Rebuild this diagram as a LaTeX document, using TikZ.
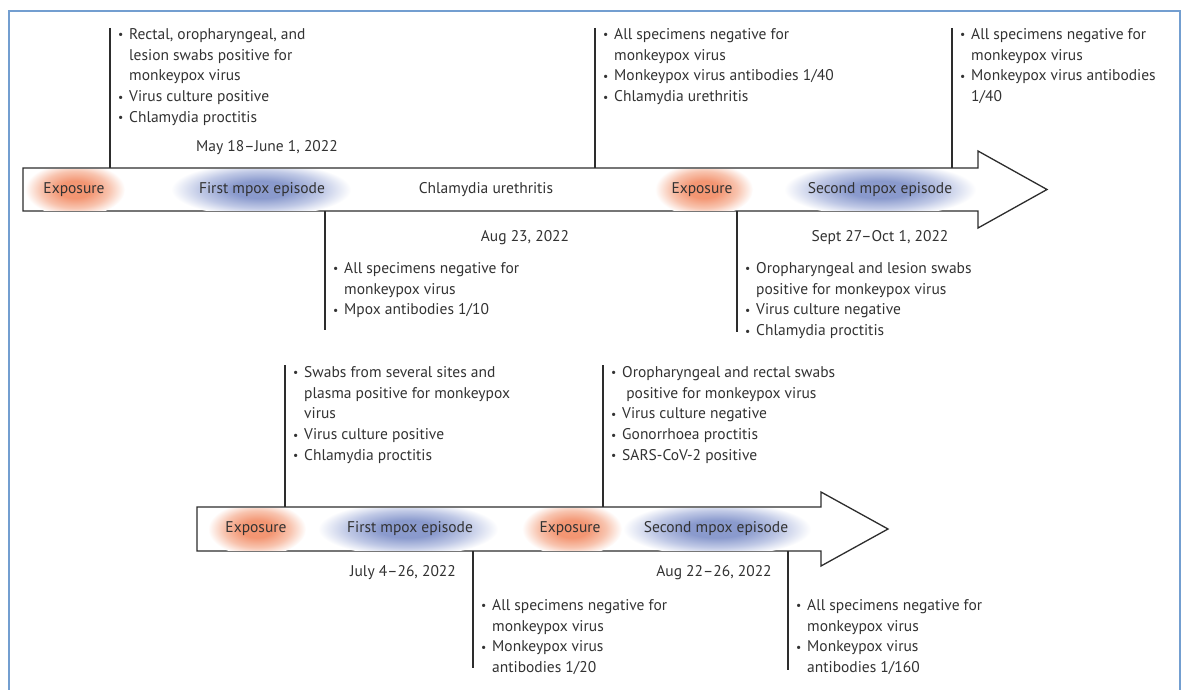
\documentclass[tikz,border=0pt]{standalone}
\usepackage{fontspec}
\setmainfont{PT Sans}
\definecolor{txt}{RGB}{50,50,50}
\definecolor{ln}{RGB}{45,45,45}
\definecolor{framec}{RGB}{115,158,208}
\definecolor{expo}{RGB}{243,150,115}
\definecolor{expomid}{RGB}{248,196,175}
\definecolor{epi}{RGB}{138,154,205}
\definecolor{epimid}{RGB}{192,201,230}
\pgfdeclareradialshading{orblob}{\pgfpointorigin}{color(0bp)=(expo); color(8bp)=(expo); color(17bp)=(expomid); color(25bp)=(white); color(50bp)=(white)}
\pgfdeclareradialshading{blblob}{\pgfpointorigin}{color(0bp)=(epi); color(8bp)=(epi); color(17bp)=(epimid); color(25bp)=(white); color(50bp)=(white)}
\newcommand{\bu}{\makebox[11pt][l]{\raisebox{0.6pt}{\scalebox{0.75}{\textbullet}}}}
\newcommand{\ind}{\hspace*{11pt}}
\tikzset{
  blk/.style={anchor=north west, inner sep=0pt, align=left, font=\fontsize{15.5}{20.8}\selectfont, text=txt},
  datel/.style={inner sep=0pt, font=\fontsize{15.5}{20.8}\selectfont, text=txt},
  lab/.style={inner sep=0pt, font=\fontsize{15.5}{20.8}\selectfont, text=txt},
  conn/.style={draw=ln, line width=1.2pt},
  arrowbody/.style={draw=ln, line width=1.3pt, fill=white, line join=miter},
}
\begin{document}
\begin{tikzpicture}[x=1pt,y=-1pt]
\useasboundingbox (0,0) rectangle (1185,690);
% frame
\draw[framec, line width=2pt] (9,695) -- (9,11) -- (1180,11) -- (1180,695);

% ===== top arrow =====
\draw[arrowbody] (23,168) -- (978,168) -- (978,151) -- (1047,189.5) -- (978,228) -- (978,211) -- (23,211) -- cycle;
\begin{scope}
\clip (24,169) rectangle (977,210);
\shade[shading=orblob] (75,189.5) ellipse (50pt and 27pt);
\shade[shading=blblob] (261,189.5) ellipse (90pt and 27pt);
\shade[shading=orblob] (704,189.5) ellipse (49pt and 27pt);
\shade[shading=blblob] (880,189.5) ellipse (96pt and 27pt);
\end{scope}
\node[lab] (t1) at (74,189.5) {Exposure};
\node[lab] (t2) at (262,189.5) {First mpox episode};
\node[lab] (t3) at (486,189.5) {Chlamydia urethritis};
\node[lab] (t4) at (702,189.5) {Exposure};
\node[lab] (t5) at (880,189.5) {Second mpox episode};

% top arrow, above
\node[blk] (A1) at (118,24.5) {\strut\bu Rectal, oropharyngeal, and\\ \ind lesion swabs positive for\\ \ind monkeypox virus\\ \bu Virus culture positive\\ \bu Chlamydia proctitis};
\node[datel] (dA1) at (267,148) {May 18--June 1, 2022};
\node[blk] (A2) at (603,24.5) {\strut\bu All specimens negative for\\ \ind monkeypox virus\\ \bu Monkeypox virus antibodies 1/40\\ \bu Chlamydia urethritis};
\node[blk] (A3) at (960,24.5) {\strut\bu All specimens negative for\\ \ind monkeypox virus\\ \bu Monkeypox virus antibodies\\ \ind 1/40};
\coordinate (a1t) at (110,28); \coordinate (a1b) at (110,168);
\coordinate (a2t) at (595,28); \coordinate (a2b) at (595,168);
\coordinate (a3t) at (952,28); \coordinate (a3b) at (952,168);
\draw[conn] (a1t) -- (a1b);
\draw[conn] (a2t) -- (a2b);
\draw[conn] (a3t) -- (a3b);

% top arrow, below
\node[datel] (dB1) at (525,238) {Aug 23, 2022};
\node[blk] (B1) at (333,258.5) {\strut\bu All specimens negative for\\ \ind monkeypox virus\\ \bu Mpox antibodies 1/10};
\node[datel] (dB2) at (880,238) {Sept 27--Oct 1, 2022};
\node[blk] (B2) at (745,258.5) {\strut\bu Oropharyngeal and lesion swabs\\ \ind positive for monkeypox virus\\ \bu Virus culture negative\\ \bu Chlamydia proctitis};
\coordinate (b1t) at (325,211); \coordinate (b1b) at (325,330);
\coordinate (b2t) at (737,211); \coordinate (b2b) at (737,332);
\draw[conn] (b1t) -- (b1b);
\draw[conn] (b2t) -- (b2b);

% ===== bottom arrow =====
\draw[arrowbody] (197,507) -- (821,507) -- (821,492) -- (888,529) -- (821,566) -- (821,551) -- (197,551) -- cycle;
\begin{scope}
\clip (198,508) rectangle (820,550);
\shade[shading=orblob] (257,529) ellipse (49pt and 27pt);
\shade[shading=blblob] (408,529) ellipse (90pt and 27pt);
\shade[shading=orblob] (572,529) ellipse (50pt and 27pt);
\shade[shading=blblob] (717,529) ellipse (94pt and 27pt);
\end{scope}
\node[lab] (u1) at (256,529) {Exposure};
\node[lab] (u2) at (410,529) {First mpox episode};
\node[lab] (u3) at (570,529) {Exposure};
\node[lab] (u4) at (716,529) {Second mpox episode};

% bottom arrow, above
\node[blk] (C1) at (293,362.5) {\strut\bu Swabs from several sites and\\ \ind plasma positive for monkeypox\\ \ind virus\\ \bu Virus culture positive\\ \bu Chlamydia proctitis};
\node[blk] (C2) at (611,362.5) {\strut\bu Oropharyngeal and rectal swabs\\ \ind\ positive for monkeypox virus\\ \bu Virus culture negative\\ \bu Gonorrhoea proctitis\\ \bu SARS-CoV-2 positive};
\coordinate (c1t) at (285,365); \coordinate (c1b) at (285,507);
\coordinate (c2t) at (603,365); \coordinate (c2b) at (603,507);
\draw[conn] (c1t) -- (c1b);
\draw[conn] (c2t) -- (c2b);

% bottom arrow, below
\node[datel] (dD1) at (403,573) {July 4--26, 2022};
\node[datel] (dD2) at (714,573) {Aug 22--26, 2022};
\node[blk] (D1) at (481,595.5) {\strut\bu All specimens negative for\\ \ind monkeypox virus\\ \bu Monkeypox virus\\ \ind antibodies 1/20};
\node[blk] (D2) at (796,595.5) {\strut\bu All specimens negative for\\ \ind monkeypox virus\\ \bu Monkeypox virus\\ \ind antibodies 1/160};
\coordinate (d1t) at (473,551); \coordinate (d1b) at (473,668);
\coordinate (d2t) at (788,551); \coordinate (d2b) at (788,670);
\draw[conn] (d1t) -- (d1b);
\draw[conn] (d2t) -- (d2b);
\end{tikzpicture}
\end{document}
